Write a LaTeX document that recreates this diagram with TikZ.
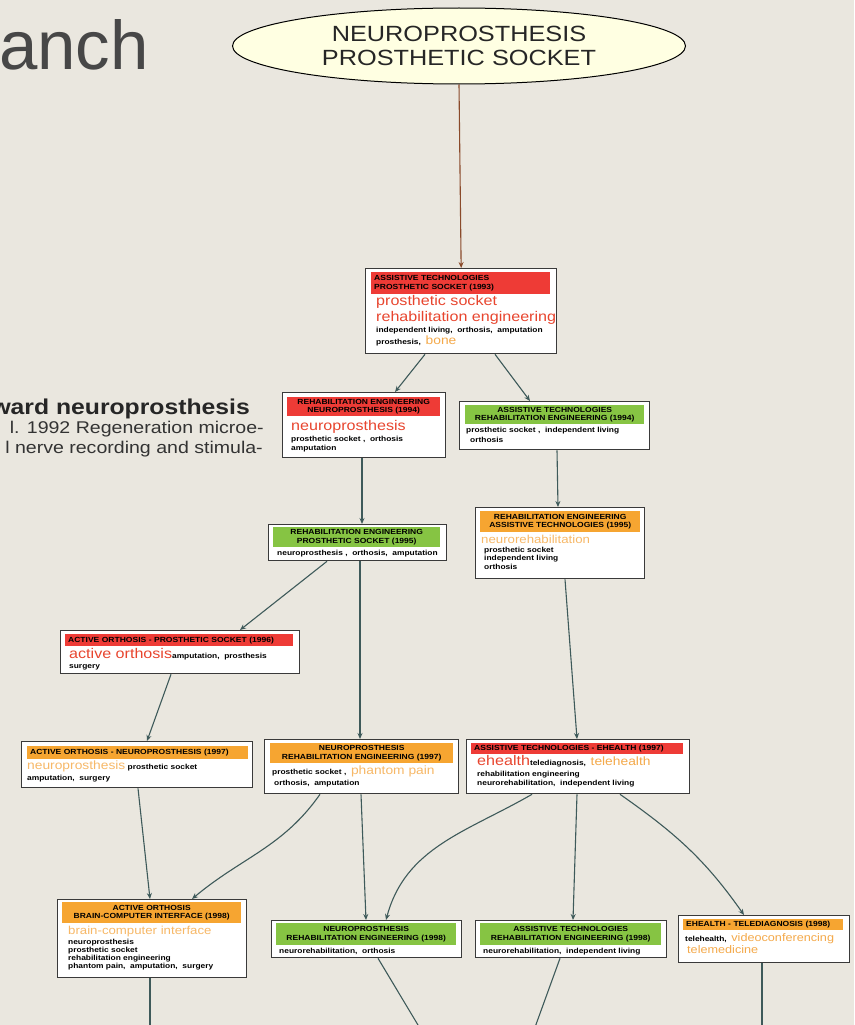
\documentclass[tikz,border=0pt]{standalone}
\usepackage{fontspec}
\setmainfont{Liberation Sans}[FakeStretch=1.15]
\newfontfamily\titlefont{Liberation Sans}
\usetikzlibrary{shapes.geometric,arrows.meta}
\definecolor{bgc}{HTML}{EAE7DF}
\definecolor{hred}{HTML}{EE3B36}
\definecolor{hgreen}{HTML}{86C443}
\definecolor{horange}{HTML}{F6A531}
\definecolor{tred}{HTML}{E8452E}
\definecolor{torange}{HTML}{F4A94A}
\definecolor{tlight}{HTML}{F7B867}
\definecolor{connc}{HTML}{3E5A5A}
\definecolor{brownc}{HTML}{8A4A2A}
\definecolor{framec}{HTML}{3A3A3A}
\definecolor{ellfill}{HTML}{FFFFE2}
\newcommand{\hdrf}{\fontsize{7.4}{8.6}\selectfont\bfseries}
\newcommand{\smf}{\fontsize{7.3}{8.5}\selectfont\bfseries}
\newcommand{\bigt}[2]{{\fontsize{#1}{#1}\selectfont #2}}
\tikzset{
  box/.style={draw=framec, fill=white, line width=1.3pt, inner sep=0pt, anchor=north west},
  hdr/.style={inner sep=0pt, inner xsep=3pt, anchor=north west, font=\hdrf, text=black},
  txt/.style={inner sep=0pt, anchor=base west, font=\smf, text=black},
  conn/.style={draw=connc, line width=1.1pt, -{Stealth[length=6pt,width=5pt]}},
  tail/.style={draw=connc, line width=1.1pt}
}
\begin{document}
\begin{tikzpicture}[x=1pt,y=-1pt]
\useasboundingbox (0,0) rectangle (854,1025);
\fill[bgc] (0,0) rectangle (854,1025);

% slide text on the left
\node[inner sep=0pt, anchor=base west, text=black!72, font=\titlefont\fontsize{69}{69}\selectfont] (title) at (-1,70) {anch};
\node[inner sep=0pt, anchor=base east, font=\fontsize{21.5}{21.5}\selectfont\bfseries, text=black!85] (sub1) at (250,414) {ward neuroprosthesis};
\node[inner sep=0pt, anchor=base east, font=\fontsize{17}{17}\selectfont, text=black!80] (sub2) at (264,433) {l. 1992 Regeneration microe-};
\node[inner sep=0pt, anchor=base east, font=\fontsize{17}{17}\selectfont, text=black!80] (sub3) at (263,453) {l nerve recording and stimula-};

% root
\node[ellipse, draw=black, line width=1pt, fill=ellfill, minimum width=453pt, minimum height=76pt, align=center, font=\fontsize{22}{24.5}\selectfont, text=black!85] (top) at (459,46) {NEUROPROSTHESIS\\PROSTHETIC SOCKET};

% 1993
\node[box, minimum width=191pt, minimum height=85pt] (b1) at (365,268) {};
\node[hdr, fill=hred, minimum width=179pt, minimum height=22pt, text width=173pt, align=left] (h1) at (371,272) {ASSISTIVE TECHNOLOGIES\\PROSTHETIC SOCKET (1993)};
\node[txt, text=tred, font=\fontsize{14}{14}\selectfont] (b1a) at (376,305) {prosthetic socket};
\node[txt, text=tred, font=\fontsize{14}{14}\selectfont] (b1b) at (376,321) {rehabilitation engineering};
\node[txt] (b1c) at (376,332) {independent living,\ \ orthosis,\ \ amputation};
\node[txt] (b1d) at (376,344) {prosthesis,\ \ \textcolor{torange}{\mdseries\bigt{12}{bone}}};

% 1994
\node[box, minimum width=163pt, minimum height=65pt] (b2) at (282,392) {};
\node[hdr, fill=hred, minimum width=153pt, minimum height=19pt, align=center] (h2) at (287,397) {REHABILITATION ENGINEERING\\NEUROPROSTHESIS (1994)};
\node[txt, text=tred, font=\fontsize{14}{14}\selectfont] (b2a) at (291,430) {neuroprosthesis};
\node[txt] (b2b) at (291,441) {prosthetic socket\ ,\ \ orthosis};
\node[txt] (b2c) at (291,450) {amputation};

\node[box, minimum width=190pt, minimum height=48pt] (b3) at (459,401) {};
\node[hdr, fill=hgreen, minimum width=179pt, minimum height=19pt, align=center] (h3) at (465,405) {ASSISTIVE TECHNOLOGIES\\REHABILITATION ENGINEERING (1994)};
\node[txt] (b3a) at (466,432) {prosthetic socket\ ,\ \ independent living};
\node[txt] (b3b) at (470,442) {orthosis};

% 1995
\node[box, minimum width=178pt, minimum height=36pt] (b4) at (268,524) {};
\node[hdr, fill=hgreen, minimum width=167pt, minimum height=20pt, align=center] (h4) at (273,527) {REHABILITATION ENGINEERING\\PROSTHETIC SOCKET (1995)};
\node[txt] (b4a) at (277,555) {neuroprosthesis\ ,\ \ orthosis,\ \ amputation};

\node[box, minimum width=169pt, minimum height=71pt] (b5) at (475,507) {};
\node[hdr, fill=horange, minimum width=160pt, minimum height=21pt, align=center] (h5) at (480,511) {REHABILITATION ENGINEERING\\ASSISTIVE TECHNOLOGIES (1995)};
\node[txt, text=tlight, font=\fontsize{11.5}{11.5}\selectfont] (b5a) at (481,543) {neurorehabilitation};
\node[txt] (b5b) at (484,552) {prosthetic socket};
\node[txt] (b5c) at (484,560) {independent living};
\node[txt] (b5d) at (484,569) {orthosis};

% 1996
\node[box, minimum width=239pt, minimum height=43pt] (b6) at (60,630) {};
\node[hdr, fill=hred, minimum width=228pt, minimum height=12pt, text width=222pt, align=left] (h6) at (65,634) {ACTIVE ORTHOSIS - PROSTHETIC SOCKET (1996)};
\node[txt] (b6a) at (69,658) {\textcolor{tred}{\mdseries\bigt{14}{active orthosis}}amputation,\ \ prosthesis};
\node[txt] (b6b) at (69,668) {surgery};

% 1997
\node[box, minimum width=231pt, minimum height=46pt] (b7) at (21,741) {};
\node[hdr, fill=horange, minimum width=221pt, minimum height=13pt, text width=215pt, align=left] (h7) at (27,746) {ACTIVE ORTHOSIS - NEUROPROSTHESIS (1997)};
\node[txt] (b7a) at (27,769) {\textcolor{tlight}{\mdseries\bigt{12}{neuroprosthesis}}\ prosthetic socket};
\node[txt] (b7b) at (27,780) {amputation,\ \ surgery};

\node[box, minimum width=194pt, minimum height=54pt] (b8) at (264,739) {};
\node[hdr, fill=horange, minimum width=183pt, minimum height=20pt, align=center] (h8) at (270,743) {NEUROPROSTHESIS\\REHABILITATION ENGINEERING (1997)};
\node[txt] (b8a) at (272,774) {prosthetic socket\ ,\ \ \textcolor{tlight}{\mdseries\bigt{12}{phantom pain}}};
\node[txt] (b8b) at (274,785) {orthosis,\ \ amputation};

\node[box, minimum width=223pt, minimum height=54pt] (b9) at (466,739) {};
\node[hdr, fill=hred, minimum width=212pt, minimum height=11pt, text width=206pt, align=left] (h9) at (471,743) {ASSISTIVE TECHNOLOGIES - EHEALTH (1997)};
\node[txt] (b9a) at (477,765) {\textcolor{tred}{\mdseries\bigt{14}{ehealth}}telediagnosis,\ \ \textcolor{torange}{\mdseries\bigt{12}{telehealth}}};
\node[txt] (b9b) at (477,776) {rehabilitation engineering};
\node[txt] (b9c) at (477,785) {neurorehabilitation,\ \ independent living};

% 1998
\node[box, minimum width=189pt, minimum height=78pt] (b10) at (57,899) {};
\node[hdr, fill=horange, minimum width=179pt, minimum height=21pt, align=center] (h10) at (62,902) {ACTIVE ORTHOSIS\\BRAIN-COMPUTER INTERFACE (1998)};
\node[txt, text=tlight, font=\fontsize{11.5}{11.5}\selectfont] (b10a) at (68,934) {brain-computer interface};
\node[txt] (b10b) at (68,944) {neuroprosthesis};
\node[txt] (b10c) at (68,952) {prosthetic socket};
\node[txt] (b10d) at (68,960) {rehabilitation engineering};
\node[txt] (b10e) at (68,968) {phantom pain,\ \ amputation,\ \ surgery};

\node[box, minimum width=190pt, minimum height=37pt] (b11) at (271,920) {};
\node[hdr, fill=hgreen, minimum width=180pt, minimum height=22pt, align=center] (h11) at (276,923) {NEUROPROSTHESIS\\REHABILITATION ENGINEERING (1998)};
\node[txt] (b11a) at (279,953) {neurorehabilitation,\ \ orthosis};

\node[box, minimum width=191pt, minimum height=37pt] (b12) at (475,920) {};
\node[hdr, fill=hgreen, minimum width=181pt, minimum height=22pt, align=center] (h12) at (480,923) {ASSISTIVE TECHNOLOGIES\\REHABILITATION ENGINEERING (1998)};
\node[txt] (b12a) at (483,953) {neurorehabilitation,\ \ independent living};

\node[box, minimum width=171pt, minimum height=47pt] (b13) at (678,915) {};
\node[hdr, fill=horange, minimum width=160pt, minimum height=11pt, text width=154pt, align=left] (h13) at (683,919) {EHEALTH - TELEDIAGNOSIS (1998)};
\node[txt] (b13a) at (685,941) {telehealth,\ \ \textcolor{torange}{\mdseries\bigt{11}{videoconferencing}}};
\node[txt, text=torange, font=\fontsize{11}{11}\selectfont] (b13b) at (687,953) {telemedicine};

% free ends leaving the lower edge
\coordinate (e10) at (150,1030);
\coordinate (e11) at (421,1030);
\coordinate (e12) at (534,1030);
\coordinate (e13) at (762,1030);

% connectors
\draw[draw=brownc, line width=1.1pt, -{Stealth[length=6pt,width=5pt]}] (top.south) -- (b1.north);
\draw[conn] ([xshift=60pt]b1.south west) -- ([xshift=113pt]b2.north west);
\draw[conn] ([xshift=130pt]b1.south west) -- ([xshift=71pt]b3.north west);
\draw[conn] ([xshift=80pt]b2.south west) -- ([xshift=94pt]b4.north west);
\draw[conn] ([xshift=98pt]b3.south west) -- ([xshift=83pt]b5.north west);
\draw[conn] ([xshift=59pt]b4.south west) -- ([xshift=180pt]b6.north west);
\draw[conn] ([xshift=92pt]b4.south west) -- ([xshift=96pt]b8.north west);
\draw[conn] ([xshift=90pt]b5.south west) -- ([xshift=111pt]b9.north west);
\draw[conn] ([xshift=111pt]b6.south west) -- ([xshift=126pt]b7.north west);
\draw[conn] ([xshift=117pt]b7.south west) -- ([xshift=93pt]b10.north west);
\draw[conn] ([xshift=56pt]b8.south west) to[out=-125,in=40] ([xshift=135pt]b10.north west);
\draw[conn] ([xshift=97pt]b8.south west) -- ([xshift=95pt]b11.north west);
\draw[conn] ([xshift=66pt]b9.south west) to[out=-150,in=75] ([xshift=115pt]b11.north west);
\draw[conn] ([xshift=111pt]b9.south west) -- ([xshift=98pt]b12.north west);
\draw[conn] ([xshift=154pt]b9.south west) to[out=-35,in=125] ([xshift=66pt]b13.north west);
\draw[tail] ([xshift=93pt]b10.south west) -- (e10);
\draw[tail] ([xshift=107pt]b11.south west) -- (e11);
\draw[tail] ([xshift=85pt]b12.south west) -- (e12);
\draw[tail] ([xshift=84pt]b13.south west) -- (e13);
\end{tikzpicture}
\end{document}
